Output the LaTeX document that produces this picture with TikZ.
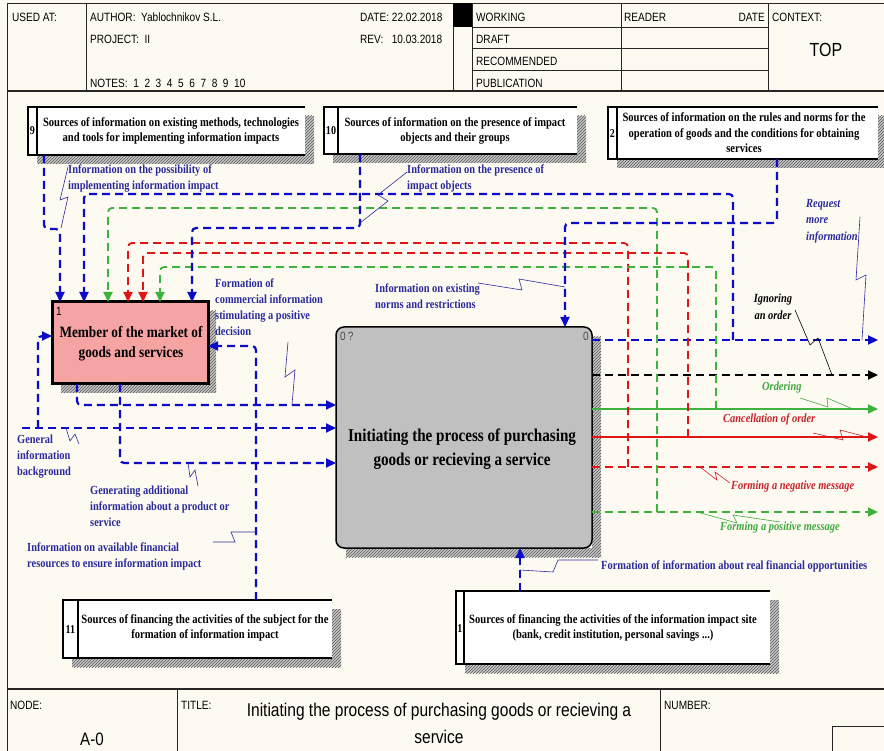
\documentclass[tikz,border=0pt]{standalone}
\usepackage{fontspec}
\setmainfont{Liberation Serif}
\newfontfamily\hdrfont[FakeStretch=0.84]{Liberation Sans}
\newfontfamily\bxfont[FakeStretch=0.84]{Liberation Serif}
\usetikzlibrary{arrows.meta,patterns}

\definecolor{paper}{HTML}{FDFBF1}
\definecolor{arrblue}{HTML}{0B0BC8}
\definecolor{lblblue}{HTML}{2A2A9C}
\definecolor{arrgreen}{HTML}{3DB23D}
\definecolor{lblgreen}{HTML}{3FA83F}
\definecolor{arrred}{HTML}{E01515}
\definecolor{lblred}{HTML}{C8202A}
\definecolor{pinkfill}{HTML}{F5A3A3}
\definecolor{boxgray}{HTML}{C0C0C0}

\tikzset{
  frameline/.style={line width=0.9pt, draw=black!85},
  hdr/.style={font=\hdrfont\fontsize{12}{14}\selectfont, inner sep=0pt, anchor=base west},
  extbox/.style={anchor=north west, fill=white, inner sep=0pt, outer sep=0pt},
  extline/.style={line width=1.3pt},
  hatchfill/.style={fill=black!22},
  hatch/.style={pattern=north east lines, pattern color=black!65},
  boxtxt/.style={font=\bxfont\bfseries\fontsize{12.6}{15.5}\selectfont, align=center, inner sep=0pt},
  numtxt/.style={font=\bxfont\bfseries\fontsize{12}{13}\selectfont, inner sep=0pt},
  lbl/.style={font=\bxfont\bfseries\fontsize{12.4}{16}\selectfont, text=lblblue, align=left, inner sep=0pt, anchor=north west},
  ilbl/.style={font=\bxfont\bfseries\itshape\fontsize{12.4}{16.5}\selectfont, align=left, inner sep=0pt, anchor=north west},
  base/.style={line width=#1, dash pattern=on 8pt off 5pt, rounded corners=4pt},
  tip/.style={-{Triangle[length=10pt,width=9pt]}},
  bl/.style={base=2.2pt, draw=arrblue},
  gr/.style={base=1.8pt, draw=arrgreen},
  rd/.style={base=1.8pt, draw=arrred},
  bk/.style={base=1.8pt, draw=black},
  sq/.style={line width=0.6pt, draw=lblblue},
}
% hatched drop shadow of a rectangle given by two corners
\newcommand\hatchrect[2]{%
  \fill[hatchfill] #1 rectangle #2;
  \fill[hatch] #1 rectangle #2;}
\newcommand\extshadow[1]{%
  \hatchrect{([yshift=-9pt]#1.north east)}{([shift={(9pt,-9pt)}]#1.south east)}
  \hatchrect{([xshift=9pt]#1.south west)}{([shift={(9pt,-9pt)}]#1.south east)}}
\newcommand\extframe[2]{%
  \draw[extline] (#1.north east) -- (#1.north west) -- (#1.south west) -- (#1.south east);
  \draw[extline] ([xshift=#2]#1.north west) -- ([xshift=#2]#1.south west);}

\begin{document}
\begin{tikzpicture}[x=1pt,y=-1pt]
\useasboundingbox (0,0) rectangle (884,751);
\fill[paper] (0,0) rectangle (884,751);

% ---------- header form ----------
\draw[frameline] (7,3) -- (884,3);
\draw[frameline] (7,3) -- (7,751);
\draw[frameline, line width=1.3pt] (7,91) -- (884,91);
\foreach \xx in {86,453,472,621,768} \draw[frameline] (\xx,3) -- (\xx,91);
\foreach \yy in {27,48,70} \draw[frameline] (472,\yy) -- (768,\yy);
\fill[black] (453,3) rectangle (472,27);
\node[hdr] (usedat) at (12,22) {USED AT:};
\node[hdr] (author) at (90,22) {AUTHOR:\ \ Yablochnikov S.L.};
\node[hdr] (project) at (90,44) {PROJECT:\ \ II};
\node[hdr] (notes) at (90,88) {NOTES:\ \ 1\ \ 2\ \ 3\ \ 4\ \ 5\ \ 6\ \ 7\ \ 8\ \ 9\ \ 10};
\node[hdr] (date) at (360,22) {DATE:\ 22.02.2018};
\node[hdr] (rev) at (360,44) {REV:\ \ \ 10.03.2018};
\node[hdr] (working) at (476,22) {WORKING};
\node[hdr] (draft) at (476,44) {DRAFT};
\node[hdr] (recom) at (476,66) {RECOMMENDED};
\node[hdr] (publ) at (476,88) {PUBLICATION};
\node[hdr] (reader) at (624,22) {READER};
\node[hdr, anchor=base east] (rdate) at (765,22) {DATE};
\node[hdr] (context) at (772,22) {CONTEXT:};
\node[hdr, anchor=base, font=\hdrfont\fontsize{19}{21}\selectfont] (top) at (826,57) {TOP};

% ---------- footer form ----------
\draw[frameline, line width=1.3pt] (7,689) -- (884,689);
\draw[frameline] (177,689) -- (177,751);
\draw[frameline] (660,689) -- (660,751);
\draw[frameline] (832,751) -- (832,726) -- (884,726);
\node[hdr] (nodelbl) at (10,709) {NODE:};
\node[hdr, anchor=base, font=\hdrfont\fontsize{18}{20}\selectfont] (nodeno) at (92,745) {A-0};
\node[hdr] (titlelbl) at (181,709) {TITLE:};
\node[font=\hdrfont\fontsize{18.5}{27}\selectfont, align=center, inner sep=0pt] (title) at (439,723)
  {Initiating the process of purchasing goods or recieving a\\service};
\node[hdr] (numlbl) at (664,709) {NUMBER:};

% ---------- shadows ----------
\node[extbox, minimum width=277pt, minimum height=48pt] (b9) at (28,107) {};
\node[extbox, minimum width=253pt, minimum height=47pt] (b10) at (324,107) {};
\node[extbox, minimum width=270pt, minimum height=52pt] (b2) at (608,107) {};
\node[extbox, minimum width=269pt, minimum height=58pt] (b11) at (63,600) {};
\node[extbox, minimum width=314pt, minimum height=73pt] (b1) at (456,591) {};
\extshadow{b9}\extshadow{b10}\extshadow{b2}\extshadow{b11}\extshadow{b1}
\hatchrect{(208,311)}{(216,393)}
\hatchrect{(61,384)}{(216,393)}
\hatchrect{(592,337)}{(601,557)}
\hatchrect{(346,548)}{(601,557)}

% ---------- external sources ----------
\extframe{b9}{9pt}
\node[numtxt] (n9) at (32.5,131) {9};
\node[boxtxt] (t9) at (171,131) {Sources of information on existing methods, technologies\\and tools for implementing information impacts};
\extframe{b10}{14pt}
\node[numtxt] (n10) at (331,131) {10};
\node[boxtxt] (t10) at (455,131) {Sources of information on the presence of impact\\objects and their groups};
\extframe{b2}{9pt}
\node[numtxt] (n2) at (612.5,134) {2};
\node[boxtxt] (t2) at (744,133) {Sources of information on the rules and norms for the\\operation of goods and the conditions for obtaining\\services};
\extframe{b11}{15pt}
\node[numtxt] (n11) at (70.5,630) {11};
\node[boxtxt] (t11) at (205,628) {Sources of financing the activities of the subject for the\\formation of information impact};
\extframe{b1}{8pt}
\node[numtxt] (n1) at (460,629) {1};
\node[boxtxt] (t1) at (613,628) {Sources of financing the activities of the information impact site\\(bank, credit institution, personal savings ...)};

% ---------- activity boxes ----------
\node[anchor=north west, minimum width=156pt, minimum height=82pt, inner sep=0pt, outer sep=0pt,
      fill=pinkfill, draw=black, line width=3pt] (mem) at (52,302) {};
\node[anchor=north west, inner sep=0pt, font=\hdrfont\fontsize{12}{12}\selectfont] (memno) at (56,307) {1};
\node[font=\bxfont\bfseries\fontsize{15.8}{20}\selectfont, align=center, inner sep=0pt] (memtxt) at (131,344)
  {Member of the market of\\goods and services};

\node[anchor=north west, minimum width=256pt, minimum height=221pt, inner sep=0pt, outer sep=0pt,
      fill=boxgray, draw=black, line width=1.5pt, rounded corners=8pt] (main) at (336,327) {};
\node[anchor=north west, inner sep=0pt, text=black!70, font=\hdrfont\fontsize{12}{12}\selectfont] (mainno) at (340,332) {0\,?};
\node[anchor=north east, inner sep=0pt, text=black!70, font=\hdrfont\fontsize{12}{12}\selectfont] (mainno2) at (589,332) {0};
\node[font=\bxfont\bfseries\fontsize{18}{24}\selectfont, align=center, inner sep=0pt] (maintxt) at (462,449)
  {Initiating the process of purchasing\\goods or recieving a service};

% ---------- branch points and free ends ----------
\coordinate (gi) at (22,428);
\foreach \nm/\yy in {r1/340, r2/375, r3/409, r4/437, r5/467, r6/512} \coordinate (\nm) at (878,\yy);

% ---------- outputs of the activity ----------
\draw[bl, tip] ([yshift=-13pt]main.north east) -- (r1);
\draw[bk, tip] ([yshift=-48pt]main.north east) -- (r2);
\draw[gr, tip, solid] ([yshift=-82pt]main.north east) -- (r3);
\draw[rd, tip, solid] ([yshift=-110pt]main.north east) -- (r4);
\draw[rd, tip] ([yshift=-140pt]main.north east) -- (r5);
\draw[gr, tip] ([yshift=-185pt]main.north east) -- (r6);

% ---------- feedback to the market member ----------
\draw[bl, tip] (733,340) -- (733,194) -- (84,194) -- ([xshift=32pt]mem.north west);
\draw[gr, tip] (657,512) -- (657,208) -- (108,208) -- ([xshift=56pt]mem.north west);
\draw[rd, tip] (628,467) -- (628,243) -- (128,243) -- ([xshift=76pt]mem.north west);
\draw[rd, tip] (688,437) -- (688,253) -- (143,253) -- ([xshift=91pt]mem.north west);
\draw[gr, tip] (716,409) -- (716,267) -- (160,267) -- ([xshift=108pt]mem.north west);

% ---------- inputs from the information sources ----------
\draw[bl, tip] ([xshift=16pt]b9.south west) -- (44,229) -- (60,229) -- ([xshift=8pt]mem.north west);
\draw[bl, tip] ([xshift=36pt]b10.south west) -- (360,228) -- (192,228) -- ([xshift=140pt]mem.north west);
\draw[bl, tip] ([xshift=169pt]b2.south west) -- (777,223) -- (565,223) -- ([xshift=229pt]main.north west);

% ---------- member outputs to the activity ----------
\draw[bl, tip] ([xshift=25pt]mem.south west) -- (77,405) -- ([yshift=-78pt]main.north west);
\draw[bl, tip] (gi) -- ([yshift=-101pt]main.north west);
\draw[bl, tip] (38,428) -- (38,336) -- ([yshift=-34pt]mem.north west);
\draw[bl, tip] ([xshift=68pt]mem.south west) -- (120,463) -- ([yshift=-136pt]main.north west);
\draw[bl, tip] ([xshift=193pt]b11.north west) -- (256,346) -- ([yshift=-44pt]mem.north east);
\draw[bl, tip] ([xshift=64pt]b1.north west) -- ([xshift=184pt]main.south west);

% ---------- arrow labels ----------
\node[lbl] (l1) at (68,165) {Information on the possibility of\\implementing information impact};
\draw[sq] (68,167) -- (60,200) -- (68,197) -- (61,228);
\node[lbl] (l2) at (407,165) {Information on the presence of\\impact objects};
\draw[sq] (407,172) -- (378,195) -- (388,201) -- (360,223);
\node[lbl] (l3) at (215,279) {Formation of\\commercial information\\stimulating a positive\\decision};
\draw[sq] (288,342) -- (285,377) -- (295,370) -- (292,405);
\node[lbl] (l4) at (375,284) {Information on existing\\norms and restrictions};
\draw[sq] (478,283) -- (522,290) -- (519,279) -- (565,287);
\node[lbl] (l5) at (17,435) {General\\information\\background};
\draw[sq] (66,428) -- (70,441) -- (75,434) -- (79,444);
\node[lbl] (l6) at (90,486) {Generating additional\\information about a product or\\service};
\draw[sq] (188,463) -- (190,477) -- (195,470) -- (198,486);
\node[lbl] (l7) at (27,543) {Information on available financial\\resources to ensure information impact};
\draw[sq] (213,542) -- (235,542) -- (231,532) -- (256,532);
\node[lbl] (l8) at (601,561) {Formation of information about real financial opportunities};
\draw[sq] (520,570) -- (553,572) -- (558,560) -- (598,560);

\node[ilbl, text=lblblue] (l9) at (806,199) {Request\\more\\information};
\draw[sq] (860,217) -- (856,280) -- (866,275) -- (862,340);
\node[ilbl, anchor=north, align=center, text=black] (l10) at (773,294) {Ignoring\\an order};
\draw[sq, draw=black] (795,310) -- (810,345) -- (818,338) -- (832,375);
\node[ilbl, text=lblgreen] (l11) at (762,382) {Ordering};
\draw[sq, draw=lblgreen] (800,398) -- (828,407) -- (827,398) -- (853,409);
\node[ilbl, text=lblred] (l12) at (723,414) {Cancellation of order};
\draw[sq, draw=lblred] (813,433) -- (843,440) -- (840,430) -- (867,437);
\node[ilbl, text=lblred] (l13) at (731,481) {Forming a negative message};
\draw[sq, draw=lblred] (700,467) -- (717,480) -- (715,472) -- (730,483);
\node[ilbl, text=lblgreen] (l14) at (720,522) {Forming a positive message};
\draw[sq, draw=lblgreen] (697,512) -- (737,523) -- (733,515) -- (780,522);
\end{tikzpicture}
\end{document}
